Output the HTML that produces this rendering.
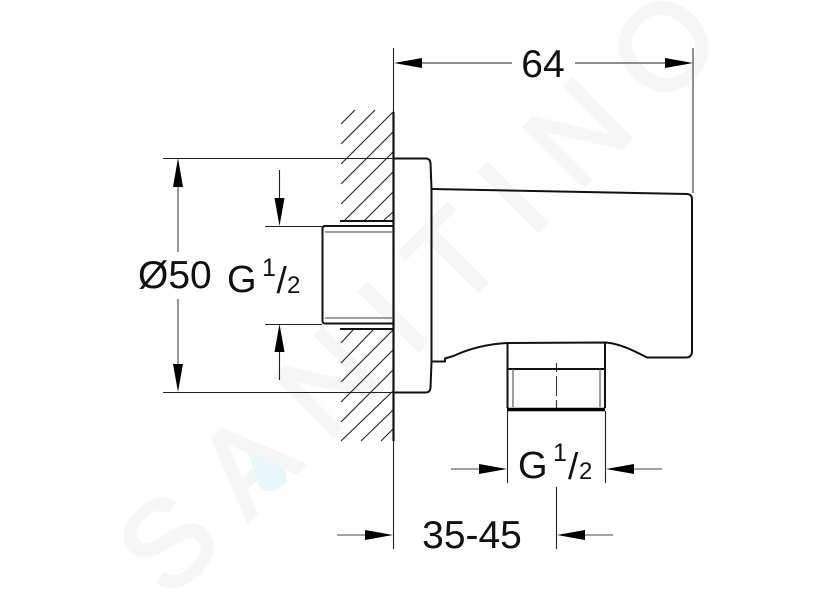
<!DOCTYPE html>
<html>
<head>
<meta charset="utf-8">
<style>
html,body{margin:0;padding:0;background:#fff;}
svg{display:block;}
text{font-family:"Liberation Sans",Arial,sans-serif;fill:#111;}
</style>
</head>
<body>
<svg width="833" height="600" viewBox="0 0 833 600" xmlns="http://www.w3.org/2000/svg">
<rect width="833" height="600" fill="#fff"/>
<!-- watermark -->
<g transform="translate(417.5 291.5) rotate(-45)">
<text x="0" y="43" text-anchor="middle" font-size="122" textLength="790" lengthAdjust="spacing" style="fill:#f6f6f6;stroke:#f6f6f6;stroke-width:3">SANITINO</text>
</g>
<path d="M248 453 L277 463 Q288 470 287 480 Q283 491 270 491 Q261 491 258 483 Z" fill="#e9f6fb"/>

<!-- hatching -->
<g stroke="#222" stroke-width="1.1" fill="none">
<path d="M341 124L355 110M341 144L375 110M341 164L393 112M341 184L393 132M341 204L393 152M344 221L393 172M364 221L393 192M383 221L393 212"/>
<path d="M341 343L353 330M341 363L373 330M341 382L393 330M341 402L393 350M341 422L393 370M341 441L393 391M361 441L393 410M381 441L393 429"/>
</g>

<!-- thin dimension lines -->
<g stroke="#222" stroke-width="1.1" fill="none">
<path d="M393.5 48V549"/>
<path d="M693 48V193" stroke="#555" stroke-width="1.3"/>
<path d="M163 158.5H393M163 392.5H393"/>
<path d="M265 226.5H322M265 324.5H322"/>
<path d="M178 187V252M178 299V364" stroke="#444"/>
<path d="M279.5 170V198M279.5 352V380"/>
<path d="M422 63H512M575 63H665"/>
<path d="M451 469H479M634 469H662" stroke="#444"/>
<path d="M337 535H365M585 535H613" stroke="#444"/>
<path d="M507.5 411V483M605.5 411V483"/>
<path d="M556.5 487V549"/>
<path d="M556.5 363V372M556.5 376V396M556.5 400V408" stroke="#333"/>
</g>

<!-- arrowheads -->
<g fill="#000">
<path d="M178 158L183 187H173Z"/>
<path d="M178 392L183 364H173Z"/>
<path d="M279.5 226L284.5 198H274.5Z"/>
<path d="M279.5 324L284.5 352H274.5Z"/>
<path d="M394 63L422 58V68Z"/>
<path d="M693 63L665 58V68Z"/>
<path d="M507 469L479 464V474Z"/>
<path d="M606 469L634 464V474Z"/>
<path d="M393 535L365 530V540Z"/>
<path d="M557 535L585 530V540Z"/>
</g>

<!-- object outline -->
<g stroke="#111" stroke-width="2" fill="none">
<path d="M393.5 112V441" stroke-width="2.2"/>
<path d="M394 158.5H426Q430 158.5 430.5 163L431.5 189V362L430.5 388Q430 392.5 426 392.5H394"/>
<path d="M432 189L687 194Q692 194.5 692 199V351Q692 357.5 686 357.5H647C636 352 622 344 606 342.5L507 343C490 344 472 348 458 354C450 358 448 357 445 358.5V361.5H431"/>
<path d="M507.5 343V408M605 342V408"/>
<path d="M507.5 369H605"/>
<path d="M340 221H393M340 329H393"/>
<path d="M325 226H393M325 323.5H393M322.5 229V321M325 226Q322.5 226 322.5 229M322.5 321Q322.5 323.5 325 323.5"/>
</g>
<path d="M507 409.5H605" stroke="#000" stroke-width="3.6" fill="none"/>
<g stroke="#666" stroke-width="1.3" fill="none">
<path d="M513 369V407M600 369V407"/>
<path d="M325 232H393M325 318H393"/>
</g>

<!-- labels -->
<text x="543" y="77" text-anchor="middle" font-size="39">64</text>
<text x="138" y="288" font-size="39">Ø50</text>
<text x="227" y="292" font-size="38">G</text>
<text x="262" y="276" font-size="25">1</text>
<text x="276.500" y="293" font-size="37">/</text>
<text x="287" y="293" font-size="24">2</text>
<text x="518" y="478" font-size="38">G</text>
<text x="553" y="461" font-size="25">1</text>
<text x="568" y="479" font-size="37">/</text>
<text x="579" y="479" font-size="24">2</text>
<text x="472" y="548" text-anchor="middle" font-size="39">35-45</text>
</svg>
</body>
</html>
